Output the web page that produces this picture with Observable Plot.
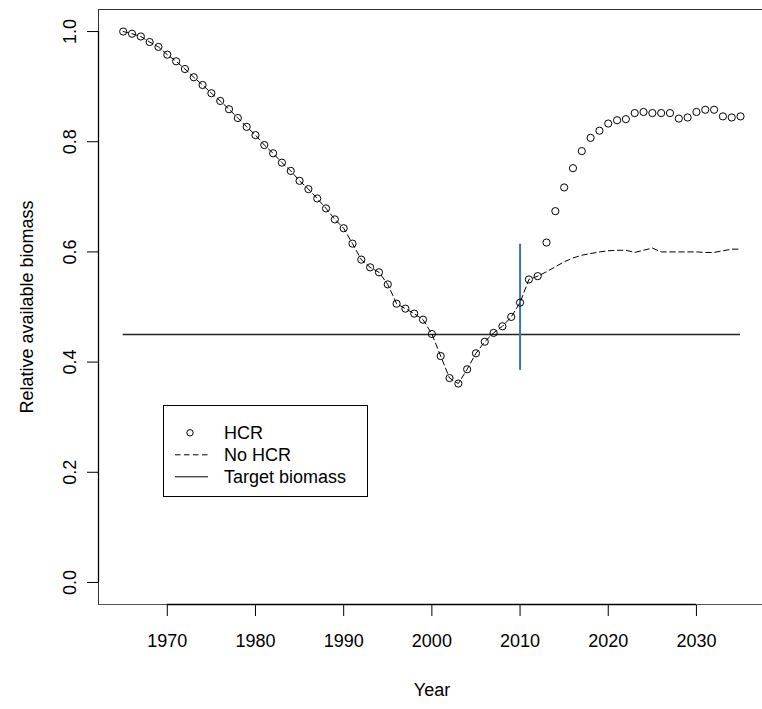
<!DOCTYPE html>
<html>
<head>
<meta charset="utf-8">
<script src="https://cdn.jsdelivr.net/npm/d3@7"></script>
<script src="https://cdn.jsdelivr.net/npm/@observablehq/plot@0.6"></script>
<style>
  body { margin: 0; background: #fff; overflow: hidden; }
  #chart { position: relative; width: 762px; height: 709px; font-family: "Liberation Sans", Arial, sans-serif; }
  #legend { position: absolute; left: 163px; top: 405px; }
</style>
</head>
<body>
<div id="chart"></div>
<script>
// Relative available biomass, one value per year from 1965 to 2035
const firstYear = 1965;
const hcr = [
  1.000, 0.996, 0.991, 0.981, 0.972, 0.958, 0.946, 0.932, 0.917, 0.903,
  0.888, 0.874, 0.859, 0.843, 0.827, 0.812, 0.794, 0.779, 0.762, 0.747,
  0.729, 0.714, 0.697, 0.679, 0.659, 0.643, 0.615, 0.586, 0.572, 0.563,
  0.541, 0.506, 0.497, 0.488, 0.477, 0.451, 0.411, 0.371, 0.361, 0.387,
  0.416, 0.437, 0.453, 0.465, 0.482, 0.508, 0.550, 0.556, 0.617, 0.674,
  0.717, 0.752, 0.783, 0.807, 0.820, 0.833, 0.839, 0.841, 0.852, 0.854,
  0.852, 0.852, 0.852, 0.842, 0.844, 0.854, 0.858, 0.858, 0.846, 0.844,
  0.846
];
const noHcr = [
  1.000, 0.996, 0.991, 0.981, 0.972, 0.958, 0.946, 0.932, 0.917, 0.903,
  0.888, 0.874, 0.859, 0.843, 0.827, 0.812, 0.794, 0.779, 0.762, 0.747,
  0.729, 0.714, 0.697, 0.679, 0.659, 0.643, 0.615, 0.586, 0.572, 0.563,
  0.541, 0.506, 0.497, 0.488, 0.477, 0.451, 0.411, 0.371, 0.361, 0.387,
  0.416, 0.437, 0.453, 0.465, 0.482, 0.508, 0.550, 0.556, 0.564, 0.573,
  0.582, 0.589, 0.594, 0.597, 0.600, 0.602, 0.603, 0.603, 0.599, 0.603,
  0.607, 0.600, 0.600, 0.600, 0.600, 0.600, 0.599, 0.599, 0.602, 0.605,
  0.605
];
const targetBiomass = 0.45;
const targetYears = [1965, 2035];
const hcrStartYear = 2010;
const hcrMarkerRange = [0.385, 0.614];

const xTicks = [1970, 1980, 1990, 2000, 2010, 2020, 2030];
const yTicks = [0, 0.2, 0.4, 0.6, 0.8, 1.0];
const xDomain = [1962.2, 2037.49];
const yDomain = [-0.04, 1.04];

const rows = hcr.map((v, i) => ({year: firstYear + i, hcr: v, noHcr: noHcr[i]}));

const dash = "5.5,3.5";

const chart = Plot.plot({
  width: 762,
  height: 709,
  marginLeft: 98,
  marginRight: 0,
  marginTop: 9,
  marginBottom: 105,
  style: {fontFamily: '"Liberation Sans", Arial, sans-serif', fontSize: "18px", color: "#000", background: "#fff"},
  x: {domain: xDomain, ticks: xTicks, tickFormat: d => String(d), tickSize: 12, tickPadding: 18, label: null},
  y: {domain: yDomain, ticks: yTicks, tickFormat: d => d.toFixed(1), tickSize: 11, tickPadding: 12, tickRotate: -90, label: null},
  marks: [
    // plot box (top, left, bottom)
    Plot.ruleY([yDomain[1]], {stroke: "#333", strokeWidth: 1}),
    Plot.ruleY([yDomain[0]], {stroke: "#555", strokeWidth: 1}),
    Plot.ruleX([xDomain[0]], {stroke: "#333", strokeWidth: 1}),
    // axis lines spanning the tick range
    Plot.ruleY([yDomain[0]], {x1: xTicks[0], x2: xTicks[xTicks.length - 1], stroke: "#000", strokeWidth: 1.3}),
    Plot.ruleX([xDomain[0]], {y1: yTicks[0], y2: yTicks[yTicks.length - 1], stroke: "#000", strokeWidth: 1.3}),
    // target biomass
    Plot.ruleY([targetBiomass], {x1: targetYears[0], x2: targetYears[1], stroke: "#222", strokeWidth: 1.5}),
    // start of the harvest control rule
    Plot.ruleX([hcrStartYear], {y1: hcrMarkerRange[0], y2: hcrMarkerRange[1], stroke: "#3d74b6", strokeWidth: 2}),
    // projections
    Plot.line(rows, {x: "year", y: "noHcr", stroke: "#000", strokeWidth: 1, strokeDasharray: dash}),
    Plot.dot(rows, {x: "year", y: "hcr", r: 3.6, stroke: "#000", strokeWidth: 1, fill: "none"}),
    // axis titles
    Plot.text(["Relative available biomass"], {text: d => d, frameAnchor: "left", rotate: -90, dx: -66, lineAnchor: "bottom", textAnchor: "middle", fontSize: 18, fill: "#000"}),
    Plot.text(["Year"], {text: d => d, frameAnchor: "bottom", dy: 91, dx: 1.5, lineAnchor: "bottom", textAnchor: "middle", fontSize: 18, fill: "#000"})
  ]
});
document.getElementById("chart").appendChild(chart);

// legend box
const legendItems = [
  {label: "HCR", kind: "dot"},
  {label: "No HCR", kind: "dash"},
  {label: "Target biomass", kind: "solid"}
];
const lw = 205, lh = 92, rowGap = 22, firstRow = 27.8;
const sym = legendItems.map((d, i) => {
  const cy = firstRow + i * rowGap;
  let s = "";
  if (d.kind === "dot") s = `<circle cx="27" cy="${cy}" r="3.2" fill="none" stroke="#000" stroke-width="1"/>`;
  if (d.kind === "dash") s = `<line x1="12" x2="45" y1="${cy}" y2="${cy}" stroke="#000" stroke-width="1" stroke-dasharray="${dash}"/>`;
  if (d.kind === "solid") s = `<line x1="12" x2="45" y1="${cy}" y2="${cy}" stroke="#000" stroke-width="1"/>`;
  return s + `<text x="61" y="${cy + 6.5}" font-size="18" fill="#000">${d.label}</text>`;
}).join("");
const legend = document.createElement("div");
legend.id = "legend";
legend.innerHTML = `<svg width="${lw}" height="${lh}" style="display:block;font-family:'Liberation Sans',Arial,sans-serif">
  <rect x="0.5" y="0.5" width="${lw - 1}" height="${lh - 1}" fill="#fff" stroke="#000" stroke-width="1"/>${sym}</svg>`;
document.getElementById("chart").appendChild(legend);
</script>
</body>
</html>
